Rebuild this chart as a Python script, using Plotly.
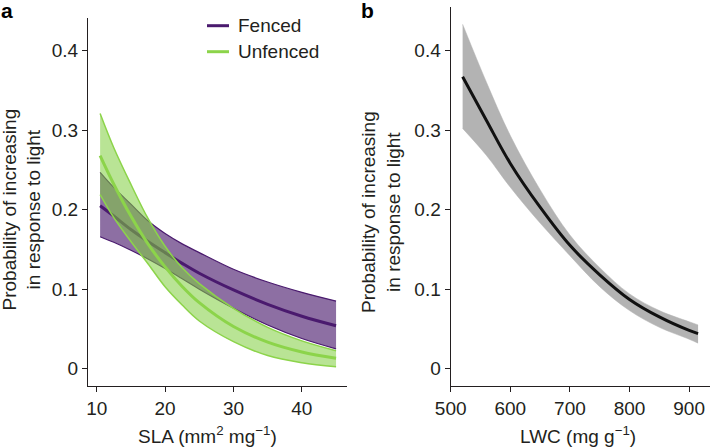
import plotly.graph_objects as go

# ---------------- Data ----------------
# Panel a: SLA (mm2 mg-1)
sla = [10.5, 12.5, 15, 17.5, 20, 22.5, 25, 30, 35, 40, 45]
fenced_mean = [0.205, 0.192, 0.175, 0.160, 0.146, 0.1325, 0.120, 0.099, 0.081, 0.066, 0.054]
fenced_upper = [0.247, 0.228, 0.207, 0.186, 0.170, 0.157, 0.146, 0.125, 0.109, 0.096, 0.085]
fenced_lower = [0.166, 0.159, 0.149, 0.138, 0.126, 0.113, 0.100, 0.076, 0.055, 0.038, 0.025]
unfenced_mean = [0.268, 0.232, 0.192, 0.157, 0.128, 0.1034, 0.083, 0.053, 0.0334, 0.021, 0.013]
unfenced_upper = [0.321, 0.278, 0.232, 0.189, 0.154, 0.127, 0.107, 0.076, 0.052, 0.035, 0.0226]
unfenced_lower = [0.219, 0.190, 0.160, 0.132, 0.103, 0.080, 0.060, 0.034, 0.0165, 0.0075, 0.0025]

# Panel b: LWC (mg g-1)
lwc = [520, 560, 600, 650, 700, 750, 800, 850, 900, 915]
lwc_mean = [0.367, 0.312, 0.258, 0.203, 0.155, 0.118, 0.087, 0.065, 0.048, 0.044]
lwc_upper = [0.433, 0.360, 0.293, 0.225, 0.168, 0.127, 0.094, 0.073, 0.059, 0.055]
lwc_lower = [0.302, 0.268, 0.228, 0.183, 0.142, 0.103, 0.073, 0.052, 0.037, 0.032]

y_ticks = [0, 0.1, 0.2, 0.3, 0.4]
y_ticktext = ["0", "0.1", "0.2", "0.3", "0.4"]
sla_ticks = [10, 20, 30, 40]
lwc_ticks = [500, 600, 700, 800, 900]

# ---------------- Styles ----------------
PURPLE = "#4a1a6e"
PURPLE_FILL = "rgba(75,27,110,0.63)"
GREEN = "#8cd44a"
GREEN_FILL = "rgba(128,205,62,0.55)"
GREY_FILL = "#b3b3b3"
TXT = "#231f20"
FONT = "Liberation Sans, Arial, sans-serif"

fig = go.Figure()

# Panel a - fenced
fig.add_trace(go.Scatter(x=sla, y=fenced_lower, mode="lines", line=dict(color=PURPLE, width=1.2, shape="spline"),
                         xaxis="x", yaxis="y", showlegend=False, hoverinfo="skip"))
fig.add_trace(go.Scatter(x=sla, y=fenced_upper, mode="lines", line=dict(color=PURPLE, width=1.2, shape="spline"),
                         fill="tonexty", fillcolor=PURPLE_FILL, xaxis="x", yaxis="y", showlegend=False, hoverinfo="skip"))
fig.add_trace(go.Scatter(x=sla, y=fenced_mean, mode="lines", line=dict(color=PURPLE, width=3, shape="spline"),
                         xaxis="x", yaxis="y", name="Fenced", showlegend=False))
# Panel a - unfenced
fig.add_trace(go.Scatter(x=sla, y=unfenced_lower, mode="lines", line=dict(color=GREEN, width=1.5, shape="spline"),
                         xaxis="x", yaxis="y", showlegend=False, hoverinfo="skip"))
fig.add_trace(go.Scatter(x=sla, y=unfenced_upper, mode="lines", line=dict(color=GREEN, width=1.5, shape="spline"),
                         fill="tonexty", fillcolor=GREEN_FILL, xaxis="x", yaxis="y", showlegend=False, hoverinfo="skip"))
fig.add_trace(go.Scatter(x=sla, y=unfenced_mean, mode="lines", line=dict(color=GREEN, width=3, shape="spline"),
                         xaxis="x", yaxis="y", name="Unfenced", showlegend=False))

# Panel b
fig.add_trace(go.Scatter(x=lwc, y=lwc_lower, mode="lines", line=dict(color=GREY_FILL, width=0.5, shape="spline"),
                         xaxis="x2", yaxis="y2", showlegend=False, hoverinfo="skip"))
fig.add_trace(go.Scatter(x=lwc, y=lwc_upper, mode="lines", line=dict(color=GREY_FILL, width=0.5, shape="spline"),
                         fill="tonexty", fillcolor=GREY_FILL, xaxis="x2", yaxis="y2", showlegend=False, hoverinfo="skip"))
fig.add_trace(go.Scatter(x=lwc, y=lwc_mean, mode="lines", line=dict(color="#111111", width=3, shape="spline"),
                         xaxis="x2", yaxis="y2", showlegend=False))

W, H = 710, 447
def px_x(p):
    return p / W
def px_y(p):
    return 1 - p / H

axis_common = dict(showline=True, linecolor=TXT, linewidth=1.3, ticks="outside", ticklen=5, tickwidth=1.3,
                   tickcolor=TXT, showgrid=False, zeroline=False, automargin=False,
                   tickfont=dict(size=19, color=TXT, family=FONT))

fig.update_layout(
    template="none",
    width=W, height=H, margin=dict(l=0, r=0, t=0, b=0, pad=0),
    paper_bgcolor="white", plot_bgcolor="white",
    font=dict(family=FONT, color=TXT),
    showlegend=False,
    xaxis=dict(domain=[px_x(88), px_x(347)], range=[8.73, 46.6], tickvals=sla_ticks,
               anchor="y", **axis_common),
    yaxis=dict(domain=[px_y(386), px_y(18.3)], range=[-0.0218, 0.4408], tickvals=y_ticks, ticktext=y_ticktext,
               anchor="x", **axis_common),
    xaxis2=dict(domain=[px_x(450.7), 1.0], range=[500, 935], tickvals=lwc_ticks,
                anchor="y2", **axis_common),
    yaxis2=dict(domain=[px_y(386), px_y(6.7)], range=[-0.0218, 0.455], tickvals=y_ticks, ticktext=y_ticktext,
                anchor="x2", **axis_common),
)

annotations = [
    dict(text="<b>a</b>", x=px_x(-1), y=px_y(-3), xref="paper", yref="paper", xanchor="left", yanchor="top",
         showarrow=False, font=dict(size=21, color="#000")),
    dict(text="<b>b</b>", x=px_x(359), y=px_y(-3), xref="paper", yref="paper", xanchor="left", yanchor="top",
         showarrow=False, font=dict(size=21, color="#000")),
    dict(text="SLA (mm<sup>2</sup> mg<sup>\u22121</sup>)", x=px_x(207), y=px_y(435), xref="paper", yref="paper",
         xanchor="center", yanchor="middle", showarrow=False, font=dict(size=19)),
    dict(text="LWC (mg g<sup>\u22121</sup>)", x=px_x(578), y=px_y(435), xref="paper", yref="paper",
         xanchor="center", yanchor="middle", showarrow=False, font=dict(size=19)),
    dict(text="Probability of increasing<br>in response to light", x=px_x(21.5), y=px_y(210), xref="paper",
         yref="paper", xanchor="center", yanchor="middle", textangle=-90, showarrow=False, font=dict(size=19)),
    dict(text="Probability of increasing<br>in response to light", x=px_x(381), y=px_y(212), xref="paper",
         yref="paper", xanchor="center", yanchor="middle", textangle=-90, showarrow=False, font=dict(size=19)),
    dict(text="Fenced", x=px_x(236), y=px_y(25.7), xref="paper", yref="paper", xanchor="left", yanchor="middle",
         showarrow=False, font=dict(size=19)),
    dict(text="Unfenced", x=px_x(236), y=px_y(51.7), xref="paper", yref="paper", xanchor="left", yanchor="middle",
         showarrow=False, font=dict(size=19)),
]
fig.update_layout(annotations=annotations)

fig.update_layout(shapes=[
    dict(type="line", xref="paper", yref="paper", x0=px_x(207), x1=px_x(229), y0=px_y(25.7), y1=px_y(25.7),
         line=dict(color=PURPLE, width=3)),
    dict(type="line", xref="paper", yref="paper", x0=px_x(207), x1=px_x(229), y0=px_y(51.7), y1=px_y(51.7),
         line=dict(color=GREEN, width=3)),
])

fig.write_html("out.html", config={"displayModeBar": False},
               post_script="document.body.style.margin='0';document.body.style.padding='0';"
                           "document.body.style.overflow='hidden';")
